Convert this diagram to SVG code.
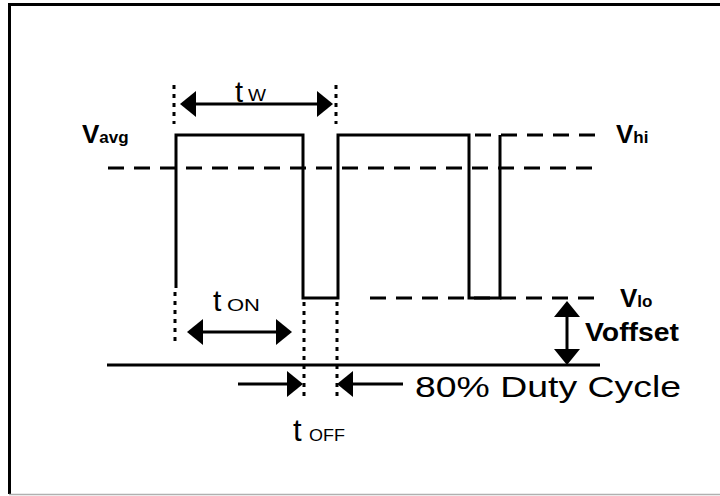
<svg xmlns="http://www.w3.org/2000/svg" width="720" height="496" viewBox="0 0 720 496">
<style>
.s{stroke:#000;stroke-width:3;fill:none}
.d{stroke:#000;stroke-width:3;fill:none;stroke-dasharray:16 10}
.dt{stroke:#000;stroke-width:3;fill:none;stroke-dasharray:4 5}
.r{font-family:"Liberation Sans",Arial,sans-serif;fill:#000}
.b{font-family:"Liberation Sans",Arial,sans-serif;font-weight:bold;fill:#000}
</style>
<defs>
<marker id="ah" viewBox="0 -13 16 26" refX="13" refY="0" markerWidth="16" markerHeight="26" markerUnits="userSpaceOnUse" orient="auto-start-reverse">
<path d="M0,-13 L16,0 L0,13 Z" fill="#000"/>
</marker>
</defs>
<rect width="720" height="496" fill="#fff"/>
<g id="frame">
<path d="M9.5,494 V4.5 H720" stroke="#000" stroke-width="3" fill="none"/>
<line x1="9" y1="494.5" x2="720" y2="494.5" stroke="#b0b0b0" stroke-width="1.5"/>
</g>
<g id="waveform">
<path class="s" d="M176,288 V135 H303 V298 H338 V135 H469 V298 H500 V135"/>
<line class="s" x1="107" y1="365" x2="600" y2="365"/>
</g>
<g id="levels">
<line class="d" x1="108" y1="168" x2="600" y2="168"/>
<line class="d" x1="475" y1="135" x2="600" y2="135"/>
<line class="d" x1="370" y1="298" x2="600" y2="298"/>
</g>
<g id="guides">
<line class="dt" x1="174" y1="85" x2="174" y2="124"/>
<line class="dt" x1="336" y1="85" x2="336" y2="124"/>
<line class="dt" x1="175" y1="292" x2="175" y2="346"/>
<line class="dt" x1="304" y1="302" x2="304" y2="396"/>
<line class="dt" x1="337" y1="302" x2="337" y2="396"/>
</g>
<g id="connectors">
<line class="s" x1="183" y1="104" x2="330" y2="104" marker-start="url(#ah)" marker-end="url(#ah)"/>
<line class="s" x1="190" y1="332" x2="289" y2="332" marker-start="url(#ah)" marker-end="url(#ah)"/>
<line class="s" x1="238" y1="384" x2="300" y2="384" marker-end="url(#ah)"/>
<line class="s" x1="403" y1="384" x2="340" y2="384" marker-end="url(#ah)"/>
<line class="s" x1="567" y1="304" x2="567" y2="362" marker-start="url(#ah)" marker-end="url(#ah)"/>
</g>
<g id="label-tw"><text class="r" x="235" y="102" font-size="29">t</text><text class="r" x="248" y="101" font-size="16" textLength="18" lengthAdjust="spacingAndGlyphs">W</text></g>
<g id="label-ton"><text class="r" x="213" y="311" font-size="30">t</text><text class="r" x="227" y="311" font-size="17" textLength="33" lengthAdjust="spacingAndGlyphs">ON</text></g>
<g id="label-toff"><text class="r" x="293" y="441" font-size="31">t</text><text class="r" x="309" y="441" font-size="17" textLength="36" lengthAdjust="spacingAndGlyphs">OFF</text></g>
<g id="label-vavg"><text class="b" x="82" y="143" font-size="26">V<tspan font-size="17">avg</tspan></text></g>
<g id="label-vhi"><text class="b" x="616" y="143" font-size="26">V<tspan font-size="17">hi</tspan></text></g>
<g id="label-vlo"><text class="b" x="620" y="307" font-size="26">V<tspan font-size="17">lo</tspan></text></g>
<g id="label-voffset"><text class="b" x="585" y="341" font-size="25" textLength="94" lengthAdjust="spacingAndGlyphs">Voffset</text></g>
<g id="label-duty"><text class="r" x="415" y="397" font-size="30" textLength="266" lengthAdjust="spacingAndGlyphs">80% Duty Cycle</text></g>
</svg>
